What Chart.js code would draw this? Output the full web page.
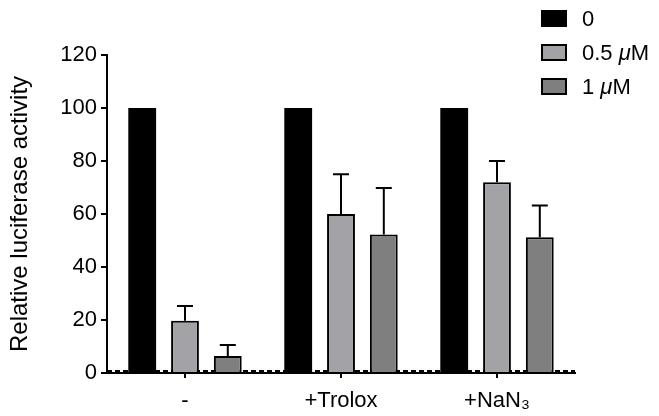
<!DOCTYPE html>
<html>
<head>
<meta charset="utf-8">
<script src="https://cdn.jsdelivr.net/npm/chart.js@4/dist/chart.umd.min.js"></script>
<style>
  html, body { margin: 0; padding: 0; background: #fff; }
  #c { display: block; }
</style>
</head>
<body>
<canvas id="c" width="659" height="416"></canvas>
<script>
// ---- data ----
const categories = ['-', '+Trolox', '+NaN\u2083'];
const seriesLabels = ['0', '0.5 \u03bcM', '1 \u03bcM'];
const control = [100, 100, 100];
const halfMicroM = [19.7, 60, 72];
const oneMicroM = [6.4, 52.3, 51.2];
const controlErr = [0, 0, 0];
const halfMicroMErr = [5.6, 15, 8];
const oneMicroMErr = [4.2, 17.5, 12];
const yMin = 0, yMax = 120, yStep = 20;
const baselineValue = 0.8;
const yTitle = 'Relative luciferase activity';

const FONT = 'Liberation Sans, Arial, Helvetica, sans-serif';
const colors = ['#000000', '#a3a3a7', '#7f7f7f'];
const errs = [controlErr, halfMicroMErr, oneMicroMErr];

const errorBars = {
  id: 'errorBars',
  afterDatasetsDraw(chart) {
    const ctx = chart.ctx, y = chart.scales.y;
    ctx.save();
    ctx.strokeStyle = '#000';
    ctx.lineWidth = 2;
    chart.data.datasets.forEach((ds, i) => {
      const meta = chart.getDatasetMeta(i);
      meta.data.forEach((el, j) => {
        const e = errs[i][j];
        if (!e) return;
        const top = y.getPixelForValue(ds.data[j] + e);
        ctx.beginPath();
        ctx.moveTo(el.x, el.y);
        ctx.lineTo(el.x, top);
        ctx.moveTo(el.x - 8, top);
        ctx.lineTo(el.x + 8, top);
        ctx.stroke();
      });
    });
    ctx.restore();
  }
};

const baseline = {
  id: 'baseline',
  beforeDatasetsDraw(chart) {
    const ctx = chart.ctx, a = chart.chartArea;
    const yy = chart.scales.y.getPixelForValue(baselineValue);
    ctx.save();
    ctx.strokeStyle = '#000';
    ctx.lineWidth = 2;
    ctx.setLineDash([5, 3]);
    ctx.beginPath();
    ctx.moveTo(a.left, yy);
    ctx.lineTo(a.right, yy);
    ctx.stroke();
    ctx.restore();
  }
};

const customLegend = {
  id: 'customLegend',
  afterDraw(chart) {
    const ctx = chart.ctx;
    ctx.save();
    chart.data.datasets.forEach((ds, i) => {
      const bx = 541, by = 10 + i * 34, bw = 26, bh = 17;
      ctx.fillStyle = ds.backgroundColor;
      ctx.fillRect(bx, by, bw, bh);
      ctx.strokeStyle = '#000';
      ctx.lineWidth = 2;
      ctx.strokeRect(bx + 1, by + 1, bw - 2, bh - 2);
      ctx.fillStyle = '#000';
      ctx.textBaseline = 'middle';
      ctx.textAlign = 'left';
      let x = 582;
      const ty = by + bh / 2 + 1;
      const parts = ds.label.split('\u03bc');
      parts.forEach((p, k) => {
        if (k > 0) {
          ctx.font = 'italic 22px ' + FONT;
          ctx.fillText('\u03bc', x, ty);
          x += ctx.measureText('\u03bc').width;
        }
        ctx.font = '22px ' + FONT;
        ctx.fillText(p, x, ty);
        x += ctx.measureText(p).width;
      });
    });
    ctx.restore();
  }
};

const datasets = [control, halfMicroM, oneMicroM].map((d, i) => ({
  label: seriesLabels[i],
  data: d,
  backgroundColor: colors[i],
  borderColor: '#000',
  borderWidth: i === 0 ? 0 : 2,
  borderSkipped: 'start',
  barPercentage: 0.65,
  categoryPercentage: 0.823
}));

new Chart(document.getElementById('c'), {
  type: 'bar',
  data: { labels: categories, datasets },
  plugins: [baseline, errorBars, customLegend],
  options: {
    responsive: false,
    animation: false,
    devicePixelRatio: 1,
    layout: { padding: { left: 0, right: 84, top: 55, bottom: 0 } },
    plugins: { legend: { display: false }, tooltip: { enabled: false } },
    scales: {
      x: {
        offset: true,
        grid: { display: true, drawOnChartArea: false, drawTicks: true, tickLength: 5, offset: false, color: '#000', lineWidth: 2 },
        border: { display: true, color: '#000', width: 2 },
        ticks: { color: '#000', font: { family: FONT, size: 22 }, padding: 10, maxRotation: 0 },
        afterFit(s) { s.height = 43; }
      },
      y: {
        min: yMin, max: yMax,
        grid: { display: true, drawOnChartArea: false, drawTicks: true, tickLength: 6, color: '#000', lineWidth: 2 },
        border: { display: true, color: '#000', width: 2 },
        ticks: { stepSize: yStep, color: '#000', font: { family: FONT, size: 22 }, padding: 4 },
        title: { display: true, text: yTitle, color: '#000', font: { family: FONT, size: 24 }, padding: { top: 6, bottom: 6 } },
        afterFit(s) { s.width = 107; }
      }
    }
  }
});
</script>
</body>
</html>
